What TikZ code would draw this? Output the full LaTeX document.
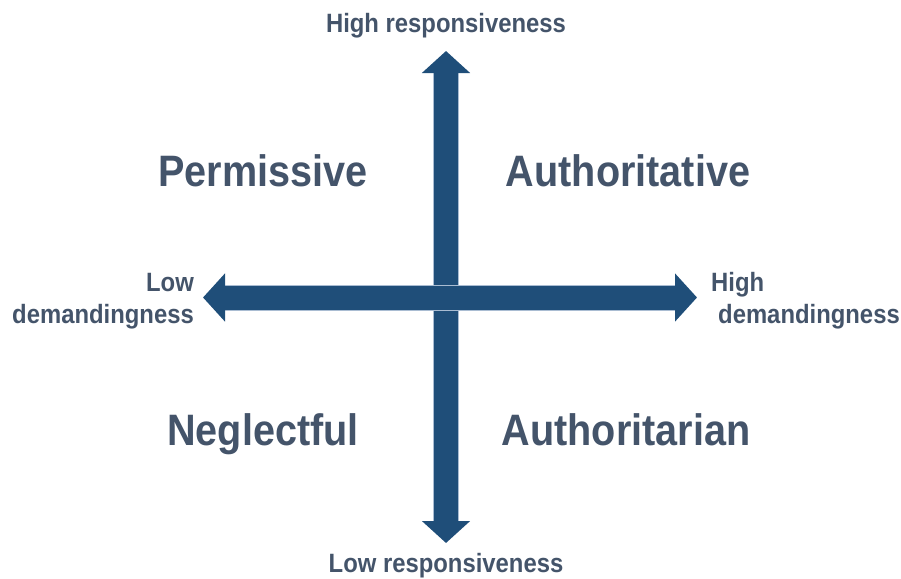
\documentclass[tikz,border=0pt]{standalone}
\usepackage{fontspec}
\setmainfont{Liberation Sans}[FakeStretch=0.9]
\usepackage{xcolor}
\usepackage{tikz}
\usetikzlibrary{arrows.meta,backgrounds}
\definecolor{axisblue}{HTML}{1F4E79}
\definecolor{axisedge}{HTML}{A9BCD2}
\definecolor{labelgrey}{HTML}{44546A}
\newcommand{\quadfont}{\fontsize{44}{50}\selectfont\bfseries}
\newcommand{\axislabelfont}{\fontsize{26.5}{32}\selectfont\bfseries}
\begin{document}
\begin{tikzpicture}[x=1pt,y=-1pt,
    axis/.style={draw=axisblue, line width=24pt, {Triangle[length=22pt,width=47pt]}-{Triangle[length=22pt,width=47pt]},
        preaction={draw=axisedge, line width=26pt, -, shorten <=21pt, shorten >=21pt}},
    quadrant/.style={text=labelgrey, font=\quadfont, inner sep=0pt, anchor=base},
    endlabel/.style={text=labelgrey, font=\axislabelfont, inner sep=0pt}]
\useasboundingbox (0,0) rectangle (901,578);
    % axis labels
    \node (hiresp) [endlabel, anchor=base] at (446,33) {High responsiveness};
    \node (loresp) [endlabel, anchor=base] at (446,572) {Low responsiveness};
    \node (lodem) [endlabel, anchor=east, align=right] at (194,301) {Low\\demandingness};
    \node (hidem) [endlabel, anchor=west, align=left] at (711,301) {High\\\hspace*{7pt}demandingness};
    % arrow ends
    \coordinate (vtop) at (446,51);
    \coordinate (vbot) at (446,543);
    \coordinate (hleft) at (203,297.5);
    \coordinate (hright) at (697,297.5);
    \draw[axis] (vbot) -- (vtop);
    \draw[axis] (hleft) -- (hright);
    % quadrants
    \node (perm) [quadrant] at (263,186) {Permissive};
    \node (authv) [quadrant] at (628,186) {Authoritative};
    \node (negl) [quadrant] at (263,445) {Neglectful};
    \node (authn) [quadrant] at (626,445) {Authoritarian};
\end{tikzpicture}
\end{document}
